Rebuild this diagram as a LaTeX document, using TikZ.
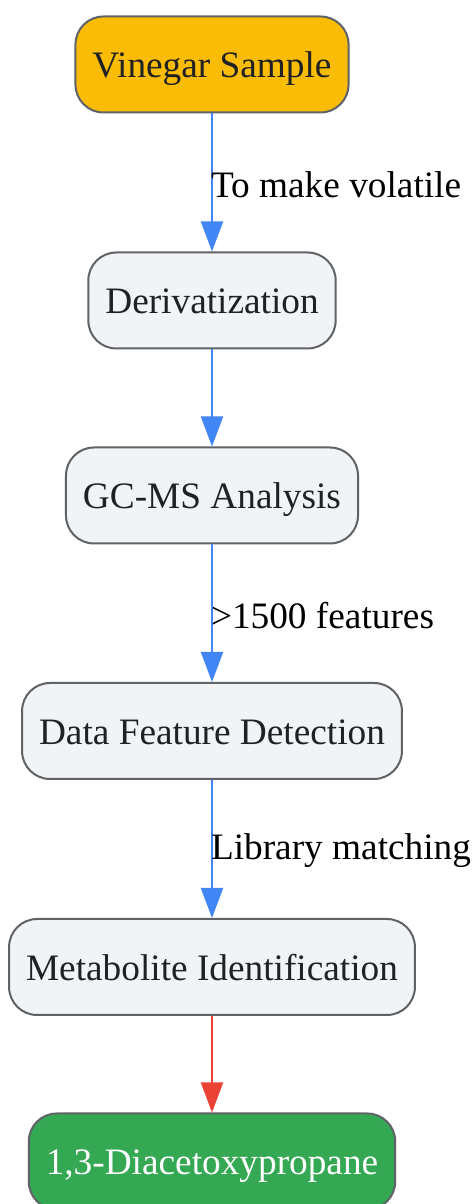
\documentclass[tikz,border=0pt]{standalone}
\usepackage{fontspec}
\setmainfont{Liberation Serif}
\usetikzlibrary{arrows.meta}

\definecolor{sampleyellow}{HTML}{FBBC05}
\definecolor{resultgreen}{HTML}{34A853}
\definecolor{flowblue}{HTML}{4285F4}
\definecolor{flowred}{HTML}{EA4335}
\definecolor{boxgray}{HTML}{F1F3F4}
\definecolor{edgegray}{HTML}{5F6368}
\definecolor{inkgray}{HTML}{202124}

\tikzset{
	stepbox/.style={draw=edgegray, fill=boxgray, text=inkgray, line width=2pt, rounded corners=28pt,
		minimum height=96pt, inner xsep=17pt, text height=30pt, text depth=3pt,
		font=\fontsize{37.3}{45}\selectfont},
	flowarrow/.style={line width=2pt, -{Triangle[length=30pt, width=22pt]}},
	edgelabel/.style={anchor=west, inner sep=0pt, xshift=-2pt, yshift=-2pt, text=black,
		font=\fontsize{37.3}{45}\selectfont}
}

\begin{document}
\begin{tikzpicture}[x=1pt, y=1pt]
		\useasboundingbox (0,0) rectangle (472,1204);
		\node[stepbox, fill=sampleyellow] (sample) at (212,1139.5) {Vinegar Sample};
		\node[stepbox] (deriv)    at (212,903.5) {Derivatization};
		\node[stepbox] (gcms)     at (212,708.5) {GC-MS Analysis};
		\node[stepbox] (features) at (212,473)   {Data Feature Detection};
		\node[stepbox] (ident)    at (212,237)   {Metabolite Identification};
		\node[stepbox, fill=resultgreen, text=white] (target) at (212,42.5) {1,3-Diacetoxypropane};

		\draw[flowarrow, draw=flowblue, fill=flowblue] (sample) -- (deriv) node[edgelabel, midway] {To make volatile};
		\draw[flowarrow, draw=flowblue, fill=flowblue] (deriv) -- (gcms);
		\draw[flowarrow, draw=flowblue, fill=flowblue] (gcms) -- (features) node[edgelabel, midway] {>1500 features};
		\draw[flowarrow, draw=flowblue, fill=flowblue] (features) -- (ident) node[edgelabel, midway] {Library matching};
		\draw[flowarrow, draw=flowred, fill=flowred] (ident) -- (target);
	\end{tikzpicture}
\end{document}
